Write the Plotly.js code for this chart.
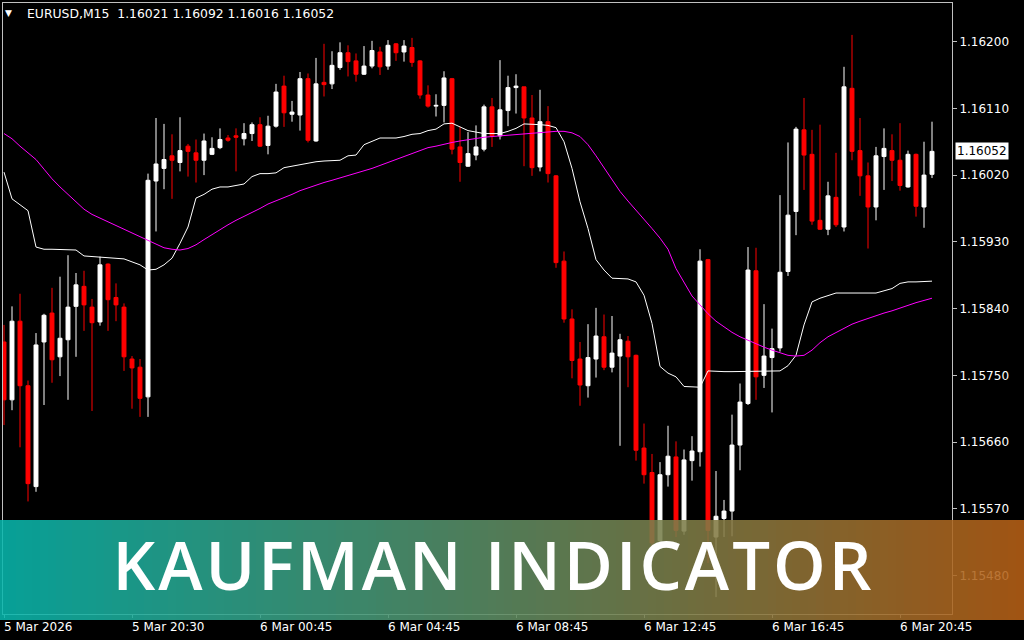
<!DOCTYPE html>
<html><head><meta charset="utf-8">
<script src="https://cdn.plot.ly/plotly-3.0.1.min.js"></script>
<style>html,body{margin:0;padding:0;background:#000;overflow:hidden}#chart{width:1024px;height:640px}</style>
</head><body><div id="chart"></div>
<script>
// ---- data (EURUSD M15) ----
const openP = [1.15795,1.15717,1.15823,1.15736,1.15600,1.15795,1.15834,1.15775,1.15798,1.15843,
1.15870,1.15842,1.15822,1.15900,1.15855,1.15842,1.15772,1.15761,1.15721,1.16012,
1.16029,1.16046,1.16037,1.16059,1.16050,1.16040,1.16048,1.16057,1.16070,1.16073,
1.16069,1.16076,1.16088,1.16060,1.16086,1.16140,1.16102,1.16101,1.16150,1.16066,
1.16145,1.16143,1.16165,1.16185,1.16174,1.16156,1.16167,1.16186,1.16167,1.16197,
1.16186,1.16192,1.16174,1.16128,1.16113,1.16114,1.16150,1.16058,1.16032,1.16047,
1.16055,1.16112,1.16073,1.16107,1.16138,1.16139,1.16097,1.16031,1.16092,1.16019,
1.15904,1.15826,1.15772,1.15736,1.15772,1.15802,1.15761,1.15776,1.15796,1.15777,
1.15652,1.15619,1.15527,1.15616,1.15640,1.15540,1.15635,1.15647,1.15906,1.15532,
1.15557,1.15567,1.15656,1.15712,1.15891,1.15750,1.15774,1.15787,1.15890,1.15971,
1.16081,1.16048,1.15959,1.15947,1.15990,1.15950,1.16137,1.16053,1.16019,1.15977,
1.16045,1.16053,1.16040,1.16004,1.16048,1.15977,1.16021];
const highP = [1.15818,1.15843,1.15860,1.15743,1.15807,1.15833,1.15868,1.15883,1.15912,1.15888,
1.15891,1.15853,1.15910,1.15901,1.15874,1.15847,1.15776,1.15772,1.16022,1.16097,
1.16089,1.16075,1.16098,1.16062,1.16068,1.16076,1.16071,1.16083,1.16074,1.16083,
1.16090,1.16091,1.16098,1.16100,1.16143,1.16154,1.16120,1.16159,1.16157,1.16178,
1.16197,1.16187,1.16199,1.16195,1.16184,1.16194,1.16201,1.16193,1.16202,1.16198,
1.16202,1.16205,1.16175,1.16141,1.16129,1.16160,1.16151,1.16085,1.16078,1.16087,
1.16115,1.16124,1.16175,1.16154,1.16156,1.16139,1.16128,1.16135,1.16113,1.16020,
1.15917,1.15839,1.15795,1.15819,1.15841,1.15832,1.15830,1.15806,1.15803,1.15778,
1.15685,1.15644,1.15633,1.15682,1.15661,1.15650,1.15668,1.15920,1.15907,1.15621,
1.15582,1.15697,1.15739,1.15923,1.15922,1.15846,1.15813,1.15993,1.16064,1.16085,
1.16124,1.16081,1.16088,1.16011,1.16050,1.16166,1.16209,1.16097,1.16037,1.16058,
1.16083,1.16075,1.16090,1.16053,1.16049,1.16065,1.16092];
const lowP = [1.15683,1.15703,1.15653,1.15580,1.15593,1.15710,1.15740,1.15749,1.15717,1.15775,
1.15810,1.15702,1.15817,1.15810,1.15823,1.15756,1.15705,1.15694,1.15694,1.15944,
1.16001,1.15988,1.16025,1.16018,1.16010,1.16020,1.16047,1.16055,1.16065,1.16025,
1.16060,1.16066,1.16058,1.16048,1.16084,1.16085,1.16092,1.16080,1.16064,1.16065,
1.16126,1.16136,1.16162,1.16153,1.16146,1.16155,1.16164,1.16155,1.16162,1.16174,
1.16173,1.16166,1.16123,1.16111,1.16099,1.16091,1.16048,1.16011,1.16031,1.16040,
1.16052,1.16058,1.16068,1.16086,1.16103,1.16032,1.16019,1.16025,1.16010,1.15895,
1.15821,1.15746,1.15709,1.15720,1.15747,1.15757,1.15754,1.15655,1.15734,1.15635,
1.15604,1.15512,1.15517,1.15600,1.15532,1.15535,1.15608,1.15627,1.15497,1.15451,
1.15532,1.15533,1.15622,1.15710,1.15717,1.15733,1.15700,1.15782,1.15884,1.15939,
1.16000,1.15953,1.15946,1.15939,1.15950,1.15944,1.16040,1.15992,1.15921,1.15959,
1.16000,1.16012,1.15999,1.16003,1.15964,1.15949,1.16016];
const closeP = [1.15717,1.15823,1.15736,1.15604,1.15791,1.15831,1.15771,1.15800,1.15842,1.15872,
1.15845,1.15821,1.15899,1.15852,1.15845,1.15775,1.15760,1.15719,1.16013,1.16035,
1.16041,1.16040,1.16053,1.16052,1.16040,1.16066,1.16056,1.16068,1.16067,1.16071,
1.16076,1.16088,1.16059,1.16086,1.16132,1.16104,1.16105,1.16150,1.16067,1.16143,
1.16142,1.16168,1.16185,1.16173,1.16156,1.16167,1.16188,1.16166,1.16195,1.16185,
1.16194,1.16172,1.16128,1.16113,1.16114,1.16151,1.16055,1.16037,1.16049,1.16058,
1.16112,1.16073,1.16108,1.16138,1.16140,1.16097,1.16030,1.16092,1.16022,1.15902,
1.15826,1.15770,1.15737,1.15774,1.15803,1.15761,1.15780,1.15798,1.15775,1.15649,
1.15616,1.15524,1.15616,1.15641,1.15541,1.15636,1.15648,1.15904,1.15541,1.15560,
1.15567,1.15656,1.15714,1.15892,1.15748,1.15776,1.15786,1.15889,1.15966,1.16082,
1.16047,1.15958,1.15947,1.15992,1.15953,1.16139,1.16052,1.16019,1.15977,1.16046,
1.16056,1.16040,1.16006,1.16048,1.15978,1.16020,1.16052];
// Kaufman adaptive moving average (white line)
const amaLine = [1.16024,1.15988,1.15980,1.15972,1.15923,1.15920,1.15920,1.15920,1.15919,1.15919,
1.15911,1.15910,1.15909,1.15908,1.15908,1.15907,1.15903,1.15899,1.15892,1.15893,
1.15899,1.15908,1.15928,1.15950,1.15989,1.15994,1.16001,1.16004,1.16004,1.16006,
1.16008,1.16018,1.16022,1.16022,1.16023,1.16030,1.16032,1.16034,1.16037,1.16038,
1.16039,1.16039,1.16040,1.16046,1.16047,1.16061,1.16065,1.16070,1.16070,1.16070,
1.16072,1.16075,1.16076,1.16080,1.16082,1.16089,1.16090,1.16085,1.16080,1.16078,
1.16076,1.16076,1.16076,1.16079,1.16083,1.16089,1.16089,1.16088,1.16087,1.16084,
1.16065,1.16029,1.15984,1.15948,1.15906,1.15892,1.15881,1.15880,1.15880,1.15876,
1.15858,1.15820,1.15762,1.15753,1.15748,1.15735,1.15734,1.15734,1.15756,1.15755,
1.15755,1.15755,1.15755,1.15755,1.15755,1.15755,1.15755,1.15756,1.15763,1.15777,
1.15818,1.15849,1.15854,1.15858,1.15861,1.15861,1.15861,1.15861,1.15861,1.15861,
1.15864,1.15867,1.15874,1.15876,1.15876,1.15876,1.15877];
// moving average (magenta line)
const maLine = [1.16076,1.16069,1.16059,1.16050,1.16041,1.16028,1.16015,1.16004,1.15994,1.15983,
1.15974,1.15967,1.15962,1.15958,1.15953,1.15948,1.15942,1.15937,1.15932,1.15927,
1.15922,1.15920,1.15919,1.15921,1.15926,1.15933,1.15940,1.15946,1.15953,1.15959,
1.15964,1.15970,1.15975,1.15981,1.15985,1.15990,1.15994,1.15999,1.16003,1.16007,
1.16010,1.16013,1.16016,1.16019,1.16022,1.16026,1.16029,1.16033,1.16037,1.16041,
1.16046,1.16050,1.16053,1.16057,1.16059,1.16062,1.16064,1.16066,1.16068,1.16069,
1.16071,1.16072,1.16073,1.16074,1.16075,1.16076,1.16077,1.16078,1.16078,1.16079,
1.16079,1.16077,1.16072,1.16061,1.16046,1.16030,1.16015,1.15998,1.15985,1.15973,
1.15960,1.15948,1.15935,1.15920,1.15894,1.15875,1.15857,1.15845,1.15833,1.15823,
1.15815,1.15808,1.15802,1.15797,1.15792,1.15788,1.15784,1.15780,1.15777,1.15776,
1.15777,1.15784,1.15794,1.15802,1.15808,1.15814,1.15819,1.15823,1.15827,1.15831,
1.15834,1.15837,1.15841,1.15845,1.15848,1.15851,1.15854];
const timeTickIdx = [0,16,32,48,64,80,96,112];
const timeTickText = ['5 Mar 2026','5 Mar 20:30','6 Mar 00:45','6 Mar 04:45','6 Mar 08:45','6 Mar 12:45','6 Mar 16:45','6 Mar 20:45'];
const priceTicks = [1.15480,1.15570,1.15660,1.15750,1.15840,1.15930,1.16020,1.16110,1.16200];
const symbolText = 'EURUSD,M15';
const bannerText = 'KAUFMAN INDICATOR';

// ---- geometry / style ----
const W = 1024, H = 640, M = {l:3, r:72, t:3, b:26};
const PW = W - M.l - M.r, PH = H - M.t - M.b;
const px = X => (X - M.l) / PW;
const py = Y => (H - M.b - Y) / PH;
const barIdx = openP.map((_, i) => i);
const n = openP.length;
const axisFont = {family:'DejaVu Sans', size:12, color:'#ffffff'};

// banner gradient strips
const shapes = [];
const c0 = [8,182,172], c1 = [182,96,22];
const nS = 128, sw = W / nS;
for (let k = 0; k < nS; k++) {
  const t = k / (nS - 1);
  const c = c0.map((v, j) => Math.round(v + (c1[j] - v) * t));
  shapes.push({type:'rect', xref:'paper', yref:'paper', layer:'above',
    x0:px(k*sw), x1:px((k+1)*sw), y0:py(620), y1:py(520),
    fillcolor:'rgb(' + c.join(',') + ')', opacity:0.88, line:{width:0}});
}

const annotations = [];
timeTickIdx.forEach((v, i) => annotations.push({
  xref:'x', yref:'paper', x:v, y:0, yshift:-13, xshift:-2, xanchor:'left', yanchor:'middle',
  showarrow:false, text:timeTickText[i], font:axisFont}));
annotations.push({xref:'paper', yref:'paper', x:px(3), y:py(13), xanchor:'left', yanchor:'middle',
  showarrow:false, text:'\u25BC', font:{family:'DejaVu Sans', size:9, color:'#ffffff'}});
annotations.push({xref:'paper', yref:'paper', x:px(25), y:py(14), xanchor:'left', yanchor:'middle',
  showarrow:false,
  text: symbolText + '\u00a0\u00a0' + [openP[n-1], highP[n-1], lowP[n-1], closeP[n-1]].map(v => v.toFixed(5)).join(' '),
  font:{family:'DejaVu Sans', size:12.4, color:'#ffffff'}});
annotations.push({xref:'paper', yref:'y', x:1, y:closeP[n-1], xanchor:'left', yanchor:'middle', xshift:3,
  showarrow:false, text:closeP[n-1].toFixed(5), bgcolor:'#ffffff', borderpad:1,
  font:{family:'DejaVu Sans', size:12, color:'#000000'}});
annotations.push({xref:'paper', yref:'paper', x:px(493), y:py(564), xanchor:'center', yanchor:'middle',
  showarrow:false, text:bannerText, font:{family:'Open Sans', size:67, color:'#ffffff', weight:600}});

const data = [
  {type:'candlestick', x:barIdx, open:openP, high:highP, low:lowP, close:closeP,
   increasing:{line:{color:'#ffffff', width:1}, fillcolor:'#ffffff'},
   decreasing:{line:{color:'#ff0000', width:1}, fillcolor:'#ff0000'},
   whiskerwidth:0, hoverinfo:'skip', showlegend:false},
  {type:'scatter', mode:'lines', x:barIdx, y:amaLine, line:{color:'#ffffff', width:1}, hoverinfo:'skip'},
  {type:'scatter', mode:'lines', x:barIdx, y:maLine, line:{color:'#ff00ff', width:1}, hoverinfo:'skip'}
];

const layout = {
  width:W, height:H, margin:M, paper_bgcolor:'#000000', plot_bgcolor:'#000000', showlegend:false,
  xaxis:{range:[-0.125, 118.5], showgrid:false, zeroline:false, showline:true, mirror:true,
    linecolor:'#c0c0c0', linewidth:1, tickmode:'array', tickvals:timeTickIdx, showticklabels:false,
    ticks:'outside', ticklen:3, tickcolor:'#c0c0c0', rangeslider:{visible:false}},
  yaxis:{side:'right', range:[1.1542822, 1.1625204], showgrid:false, zeroline:false, showline:true, mirror:true,
    linecolor:'#c0c0c0', linewidth:1, tickmode:'array', tickvals:priceTicks, tickformat:'.5f',
    ticks:'outside', ticklen:4, tickcolor:'#c0c0c0', tickfont:axisFont},
  shapes: shapes, annotations: annotations
};

Plotly.newPlot('chart', data, layout, {staticPlot:true, displayModeBar:false}).then(gd => {
  gd.querySelectorAll('.annotation-text').forEach(el => {
    if (el.textContent === bannerText) el.style.letterSpacing = '3px';
  });
});
</script></body></html>
